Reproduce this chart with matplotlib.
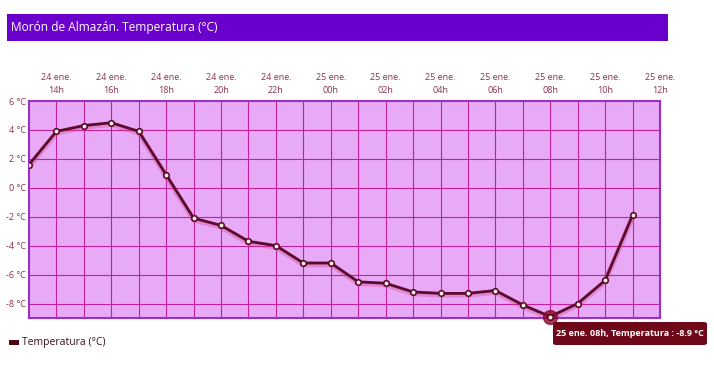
import matplotlib.pyplot as plt
from matplotlib.patches import Rectangle, FancyBboxPatch
import matplotlib.patheffects as pe

plt.rcParams['font.family'] = ['Open Sans', 'DejaVu Sans']

hours = ['13h', '14h', '15h', '16h', '17h', '18h', '19h', '20h', '21h', '22h', '23h', '00h',
         '01h', '02h', '03h', '04h', '05h', '06h', '07h', '08h', '09h', '10h', '11h']
temps = [1.6, 3.9, 4.3, 4.5, 3.9, 0.9, -2.1, -2.6, -3.7, -4.0, -5.2, -5.2,
         -6.5, -6.6, -7.2, -7.3, -7.3, -7.1, -8.1, -8.9, -8.0, -6.4, -1.9]
tick_labels = ['24 ene.\n14h', '24 ene.\n16h', '24 ene.\n18h', '24 ene.\n20h', '24 ene.\n22h',
               '25 ene.\n00h', '25 ene.\n02h', '25 ene.\n04h', '25 ene.\n06h', '25 ene.\n08h',
               '25 ene.\n10h', '25 ene.\n12h']
y_ticks = [-8, -6, -4, -2, 0, 2, 4, 6]
highlight = 19

fig = plt.figure(figsize=(7.14, 3.79), dpi=100)
W, H = 714, 379

# title bar
fig.patches.append(Rectangle((7 / W, 1 - 41 / H), 661 / W, 27 / H, transform=fig.transFigure,
                             facecolor='#6a00cc', edgecolor='none'))
fig.text(11 / W, 1 - 28 / H, 'Morón de Almazán. Temperatura (°C)', color='white',
         fontsize=8.6, va='center', ha='left')

ax = fig.add_axes([29 / W, 61 / H, 631 / W, 217 / H])
ax.set_facecolor('#e8aaf6')
x = list(range(len(temps)))
ax.set_xlim(0, 23)
ax.set_ylim(-9, 6)

for xv in range(1, 23):
    ax.axvline(xv, color='#c4209c', lw=0.8, zorder=1)
for yv in y_ticks[:-1]:
    ax.axhline(yv, color='#c4209c', lw=0.8, zorder=1)

ax.plot(x, temps, color='#5a0a2a', lw=2, zorder=3,
        path_effects=[pe.Stroke(linewidth=4, foreground='#d0408f', offset=(0, -1), alpha=0.35),
                      pe.Normal()])
ax.plot(x, temps, 'o', ms=4, mfc='#fff0e6', mec='#5a0a2a', mew=1.2, zorder=4)
ax.plot(highlight, temps[highlight], 'o', ms=10, color='#8a0a2a', alpha=0.8, zorder=3.5,
        clip_on=False)
ax.plot(highlight, temps[highlight], 'o', ms=4, mfc='#fff0e6', mec='#5a0a2a', mew=1.2,
        zorder=5, clip_on=False)

for s in ax.spines.values():
    s.set_color('#9a30c8')
    s.set_linewidth(1.5)

ax.set_yticks(y_ticks)
ax.set_yticklabels([f'{v} °C' for v in y_ticks], fontsize=6.5, color='#8a3050')
ax.tick_params(axis='y', length=0, pad=2)
ax.xaxis.tick_top()
ax.set_xticks(range(1, 24, 2))
ax.set_xticklabels(tick_labels, fontsize=6.5, color='#8a3050', linespacing=1.6)
ax.tick_params(axis='x', length=0, pad=4)

# tooltip
fig.patches.append(FancyBboxPatch((553 / W, 1 - 345 / H), 154 / W, 23 / H,
                                  boxstyle='round,pad=0,rounding_size=0.005',
                                  transform=fig.transFigure, facecolor='#6e0818',
                                  edgecolor='none', zorder=10))
fig.text(630 / W, 1 - 333.5 / H,
         f'25 ene. {hours[highlight]}, Temperatura : {temps[highlight]} °C',
         color='white', fontsize=6.5, fontweight='bold', ha='center', va='center', zorder=11)

# legend
fig.patches.append(Rectangle((9 / W, 1 - 345 / H), 10 / W, 5 / H, transform=fig.transFigure,
                             facecolor='#4a0810', edgecolor='none'))
fig.text(22 / W, 1 - 342 / H, 'Temperatura (°C)', color='#3a1020', fontsize=7.5, va='center')

fig.savefig('out.png', dpi=100)
